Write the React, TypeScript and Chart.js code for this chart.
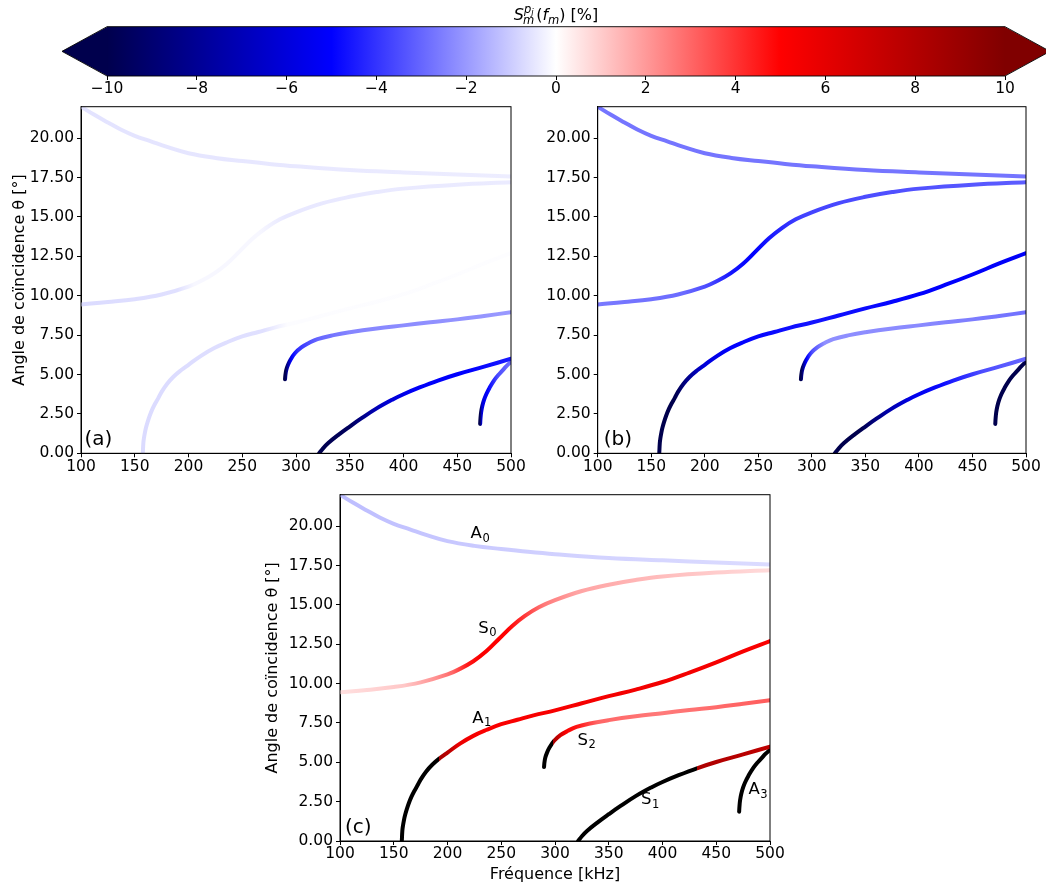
import React, { useEffect, useRef } from 'react';
import { Chart, registerables } from 'chart.js';

Chart.register(...registerables);

const FAMILY = "'DejaVu Sans', sans-serif";

// ---------- axes ----------
const freqTicks = [100, 150, 200, 250, 300, 350, 400, 450, 500];
const angleTicks = [0, 2.5, 5, 7.5, 10, 12.5, 15, 17.5, 20];
const colorbarTicks = [-10, -8, -6, -4, -2, 0, 2, 4, 6, 8, 10];

// ---------- modes: frequency [kHz] / coincidence angle [deg] ----------
const fA0 = [100, 112, 125, 137, 150, 165, 180, 200, 225, 250, 275, 300, 350, 400, 450, 500];
const tA0 = [22.0, 21.5, 21.0, 20.55, 20.15, 19.8, 19.45, 19.05, 18.75, 18.55, 18.37, 18.22, 17.98, 17.83, 17.7, 17.57];

const fS0 = [100, 125, 150, 175, 200, 212, 224, 236, 248, 260, 272, 285, 300, 325, 350, 375, 400, 450, 500];
const tS0 = [9.45, 9.6, 9.78, 10.08, 10.58, 10.95, 11.42, 12.05, 12.85, 13.65, 14.3, 14.85, 15.3, 15.88, 16.28, 16.58, 16.8, 17.05, 17.2];

const fA1 = [157.5, 158, 158.5, 159.5, 160.5, 162, 164, 166.5, 169, 172, 175, 180, 186, 193, 200, 212, 224, 236, 250, 265, 280, 300, 325, 350, 375, 400, 425, 450, 475, 500];
const tA1 = [0, 0.66, 0.94, 1.33, 1.63, 1.99, 2.4, 2.82, 3.16, 3.52, 3.9, 4.4, 4.86, 5.27, 5.62, 6.2, 6.68, 7.05, 7.42, 7.7, 7.98, 8.3, 8.75, 9.2, 9.62, 10.1, 10.7, 11.35, 12.05, 12.7];

const fS2 = [289.8, 290.2, 291, 292.5, 295, 299, 305, 312, 320, 335, 350, 375, 400, 425, 450, 475, 500];
const tS2 = [4.7, 5.0, 5.3, 5.6, 5.95, 6.35, 6.72, 7.0, 7.25, 7.5, 7.68, 7.92, 8.12, 8.32, 8.5, 8.72, 8.95];

const fS1 = [321.5, 325, 330, 340, 350, 360, 375, 390, 400, 415, 432, 450, 475, 500];
const tS1 = [0, 0.3, 0.65, 1.2, 1.7, 2.18, 2.85, 3.42, 3.75, 4.18, 4.62, 5.02, 5.5, 6.0];

const fA3 = [471.3, 471.6, 472.2, 473.3, 475, 477, 480, 484, 488, 492, 496, 500];
const tA3 = [1.86, 2.2, 2.6, 3.0, 3.4, 3.75, 4.15, 4.6, 4.95, 5.25, 5.55, 5.8];

// ---------- sensitivity S [%] along each mode: [frequency, value] (null = black) ----------
type Stop = [number, number | null];

const colA0a: Stop[] = [[100, -0.55], [300, -0.45], [500, -0.35]];
const colS0a: Stop[] = [[100, -0.7], [190, -0.6], [205, -0.15], [265, -0.15], [290, -0.45], [500, -0.4]];
const colA1a: Stop[] = [[157, -0.7], [270, -0.6], [292, -0.05], [500, -0.03]];
const colS2a: Stop[] = [[290, -11], [292, -8], [296, -5], [302, -4], [320, -3], [350, -2.4], [420, -2.2], [500, -2]];
const colS1a: Stop[] = [[321, -11], [350, -9.5], [380, -6.5], [410, -5.2], [460, -5], [500, -4.5]];
const colA3a: Stop[] = [[471, -10], [473, -6], [478, -5], [488, -3.5], [500, -2.8]];

const colA0b: Stop[] = [[100, -2.7], [500, -2.7]];
const colS0b: Stop[] = [[100, -2.6], [180, -2.9], [205, -3.6], [225, -4.6], [245, -5], [265, -4.4], [290, -3.7], [350, -3.5], [500, -3.2]];
const colA1b: Stop[] = [[157, -11], [172, -10.5], [185, -8], [200, -6], [225, -5], [300, -4.6], [400, -5], [500, -5.2]];
const colS2b: Stop[] = [[290, -11], [292, -8], [295, -5], [300, -3.5], [312, -2.2], [400, -2.3], [500, -2.8]];
const colS1b: Stop[] = [[321, -11], [345, -10], [370, -7.5], [395, -5.5], [420, -4.8], [460, -3.5], [500, -3]];
const colA3b: Stop[] = [[471, -11], [500, -10.5]];

const colA0c: Stop[] = [[100, -1.3], [300, -0.9], [500, -0.7]];
const colS0c: Stop[] = [[100, 0.6], [160, 1.1], [190, 2.2], [205, 3], [218, 4.5], [230, 5.2], [255, 5], [270, 4], [290, 2.6], [320, 1.8], [400, 1.3], [500, 0.7]];
const colA1c: Stop[] = [[157, null], [192, null], [192.5, 8.5], [203, 7.5], [210, 5.8], [230, 5.2], [300, 5.3], [400, 5.5], [500, 5.2]];
const colS2c: Stop[] = [[290, null], [298, null], [298.5, 8.5], [304, 7], [310, 5.2], [322, 4.5], [340, 3], [400, 2.6], [500, 3.2]];
const colS1c: Stop[] = [[321, null], [432, null], [432.5, 8.2], [500, 7.5]];
const colA3c: Stop[] = [[471, null], [500, null]];

// ---------- mode annotations in panel (c) ----------
const modeMain = ['A', 'S', 'A', 'S', 'S', 'A'];
const modeSub = ['0', '0', '1', '2', '1', '3'];
const modeF = [221.5, 228.7, 223, 321, 380, 480];
const modeT = [19.5, 13.5, 7.78, 6.4, 2.6, 3.23];

const curves = [
  { name: 'A0', f: fA0, t: tA0 },
  { name: 'S0', f: fS0, t: tS0 },
  { name: 'A1', f: fA1, t: tA1 },
  { name: 'S2', f: fS2, t: tS2 },
  { name: 'S1', f: fS1, t: tS1 },
  { name: 'A3', f: fA3, t: tA3 },
];

// matplotlib "seismic"
const seismicAnchors = [
  [0, 0, 0.3],
  [0, 0, 1],
  [1, 1, 1],
  [1, 0, 0],
  [0.5, 0, 0],
];
function seismic(v: number | null): string {
  if (v === null) return 'rgb(0,0,0)';
  let t = (v + 10) / 20;
  t = Math.max(0, Math.min(1, t));
  const p = t * 4;
  const i = Math.min(3, Math.floor(p));
  const r = p - i;
  const a = seismicAnchors[i];
  const b = seismicAnchors[i + 1];
  const c = [0, 1, 2].map((k) => Math.round(255 * (a[k] + (b[k] - a[k]) * r)));
  return `rgb(${c[0]},${c[1]},${c[2]})`;
}

function gradientFor(chart: any, stops: Stop[]) {
  const area = chart.chartArea;
  const xs = chart.scales && chart.scales.x;
  if (!area || !xs) return 'rgba(0,0,0,0)';
  const x0 = xs.getPixelForValue(100);
  const x1 = xs.getPixelForValue(500);
  const g = chart.ctx.createLinearGradient(x0, 0, x1, 0);
  stops.forEach(([f, v]) => g.addColorStop(Math.max(0, Math.min(1, (f - 100) / 400)), seismic(v)));
  return g;
}

interface PanelSpec {
  colours: Record<string, Stop[]>;
  yW: number;
  xH: number;
  padR: number;
  padT: number;
  yTitle: boolean;
  yTitlePad: number;
  xTitle: boolean;
  letter: string;
  letterDx: number;
  modeLabels: boolean;
}

const TICK_FONT = { family: FAMILY, size: 15.5 };
const TITLE_FONT = { family: FAMILY, size: 16 };

function makePanel(canvas: HTMLCanvasElement, spec: PanelSpec) {
  const datasets: any[] = [];
  curves.forEach((c) => {
    const data = c.f.map((f, i) => ({ x: f, y: c.t[i] }));
    const stops = spec.colours[c.name];
    datasets.push({
      data,
      showLine: true,
      pointRadius: 0,
      pointHoverRadius: 0,
      borderWidth: 4,
      borderCapStyle: 'round',
      borderJoinStyle: 'round',
      tension: 0.4,
      clip: 0,
      borderColor: (ctx: any) => gradientFor(ctx.chart, stops),
    });
    datasets.push({
      data,
      showLine: true,
      pointRadius: 0,
      pointHoverRadius: 0,
      borderWidth: 1.2,
      borderDash: [1.2, 2.0],
      borderColor: 'rgba(40,40,90,0.6)',
      tension: 0.4,
      clip: 0,
    });
  });

  const panelPlugin = {
    id: 'panelDecor',
    afterDatasetsDraw(chart: any) {
      const { ctx, chartArea: a } = chart;
      ctx.save();
      ctx.strokeStyle = '#000';
      ctx.lineWidth = 1;
      ctx.strokeRect(a.left, a.top, a.right - a.left, a.bottom - a.top);
      ctx.fillStyle = '#000';
      ctx.textBaseline = 'middle';
      ctx.textAlign = 'left';
      ctx.font = `20px ${FAMILY}`;
      ctx.fillText(spec.letter, a.left + spec.letterDx, a.bottom - 13.5);
      if (spec.modeLabels) {
        const xs = chart.scales.x;
        const ys = chart.scales.y;
        modeMain.forEach((m, i) => {
          const px = xs.getPixelForValue(modeF[i]);
          const py = ys.getPixelForValue(modeT[i]);
          ctx.font = `16.5px ${FAMILY}`;
          ctx.fillText(m, px, py);
          const w = ctx.measureText(m).width;
          ctx.font = `11.5px ${FAMILY}`;
          ctx.fillText(modeSub[i], px + w + 0.5, py + 4.5);
        });
      }
      ctx.restore();
    },
  };

  return new Chart(canvas, {
    type: 'scatter',
    data: { datasets },
    plugins: [panelPlugin],
    options: {
      responsive: false,
      animation: false,
      devicePixelRatio: 1,
      events: [],
      layout: { padding: { left: 0, right: spec.padR, top: spec.padT, bottom: 0 } },
      plugins: { legend: { display: false }, tooltip: { enabled: false }, title: { display: false } },
      scales: {
        x: {
          type: 'linear',
          min: 100,
          max: 500,
          afterBuildTicks: (s: any) => {
            s.ticks = freqTicks.map((v) => ({ value: v }));
          },
          afterFit: (s: any) => {
            s.height = spec.xH;
          },
          ticks: {
            font: TICK_FONT,
            color: '#000',
            padding: 0,
            maxRotation: 0,
            autoSkip: false,
            callback: (v: any) => String(v),
          },
          grid: { drawOnChartArea: false, drawTicks: true, tickLength: 4, tickColor: '#000', tickWidth: 1 },
          border: { display: true, color: '#000', width: 1 },
          title: {
            display: spec.xTitle,
            text: 'Fréquence [kHz]',
            font: TITLE_FONT,
            color: '#000',
            padding: { top: 0, bottom: 1.4 },
          },
        },
        y: {
          type: 'linear',
          min: 0,
          max: 22,
          afterBuildTicks: (s: any) => {
            s.ticks = angleTicks.map((v) => ({ value: v }));
          },
          afterFit: (s: any) => {
            s.width = spec.yW;
          },
          ticks: {
            font: TICK_FONT,
            color: '#000',
            padding: 3,
            autoSkip: false,
            callback: (v: any) => Number(v).toFixed(2),
          },
          grid: { drawOnChartArea: false, drawTicks: true, tickLength: 4, tickColor: '#000', tickWidth: 1 },
          border: { display: true, color: '#000', width: 1 },
          title: {
            display: spec.yTitle,
            text: 'Angle de coïncidence θ [°]',
            font: TITLE_FONT,
            color: '#000',
            padding: { top: spec.yTitlePad, bottom: 0 },
          },
        },
      },
    } as any,
  });
}

function makeColorbar(canvas: HTMLCanvasElement) {
  const cbPlugin = {
    id: 'colorbarDraw',
    beforeDatasetsDraw(chart: any) {
      const { ctx, chartArea: a } = chart;
      const ext = 45;
      const mid = (a.top + a.bottom) / 2;
      ctx.save();
      const g = ctx.createLinearGradient(a.left, 0, a.right, 0);
      [-10, -5, 0, 5, 10].forEach((v, i) => g.addColorStop(i / 4, seismic(v)));
      ctx.fillStyle = g;
      ctx.fillRect(a.left, a.top, a.right - a.left, a.bottom - a.top);
      ctx.fillStyle = seismic(-10);
      ctx.beginPath();
      ctx.moveTo(a.left + 0.5, a.top);
      ctx.lineTo(a.left - ext, mid);
      ctx.lineTo(a.left + 0.5, a.bottom);
      ctx.closePath();
      ctx.fill();
      ctx.fillStyle = seismic(10);
      ctx.beginPath();
      ctx.moveTo(a.right - 0.5, a.top);
      ctx.lineTo(a.right + ext, mid);
      ctx.lineTo(a.right - 0.5, a.bottom);
      ctx.closePath();
      ctx.fill();
      ctx.strokeStyle = '#000';
      ctx.lineWidth = 0.9;
      ctx.beginPath();
      ctx.moveTo(a.left, a.top);
      ctx.lineTo(a.right, a.top);
      ctx.lineTo(a.right + ext, mid);
      ctx.lineTo(a.right, a.bottom);
      ctx.lineTo(a.left, a.bottom);
      ctx.lineTo(a.left - ext, mid);
      ctx.closePath();
      ctx.stroke();

      // label: S_m^{p_j}(f_m) [%]
      const base = 20;
      const big = `16px ${FAMILY}`;
      const bigIt = `italic 16px ${FAMILY}`;
      const smIt = `italic 11.5px ${FAMILY}`;
      const tinyIt = `italic 8.5px ${FAMILY}`;
      const meas = (font: string, t: string) => {
        ctx.font = font;
        return ctx.measureText(t).width;
      };
      const wS = meas(bigIt, 'S');
      const wp = meas(smIt, 'p');
      const wj = meas(tinyIt, 'j');
      const wm = meas(smIt, 'm');
      const wScript = Math.max(wp + wj, wm);
      const wOpen = meas(big, '(');
      const wf = meas(bigIt, 'f');
      const wm2 = meas(smIt, 'm');
      const wClose = meas(big, ') [%]');
      const total = wS + wScript + 1 + wOpen + wf + wm2 + wClose;
      let x = (a.left + a.right) / 2 - total / 2;
      ctx.fillStyle = '#000';
      ctx.textBaseline = 'alphabetic';
      ctx.textAlign = 'left';
      ctx.font = bigIt;
      ctx.fillText('S', x, base);
      x += wS;
      ctx.font = smIt;
      ctx.fillText('p', x, base - 7.5);
      ctx.font = tinyIt;
      ctx.fillText('j', x + wp, base - 5);
      ctx.font = smIt;
      ctx.fillText('m', x - 1, base + 3.5);
      x += wScript + 1;
      ctx.font = big;
      ctx.fillText('(', x, base);
      x += wOpen;
      ctx.font = bigIt;
      ctx.fillText('f', x, base);
      x += wf;
      ctx.font = smIt;
      ctx.fillText('m', x, base + 3.5);
      x += wm2;
      ctx.font = big;
      ctx.fillText(') [%]', x, base);
      ctx.restore();
    },
  };

  return new Chart(canvas, {
    type: 'scatter',
    data: { datasets: [] },
    plugins: [cbPlugin],
    options: {
      responsive: false,
      animation: false,
      devicePixelRatio: 1,
      events: [],
      layout: { padding: { left: 107, right: 41, top: 26.7, bottom: 0 } },
      plugins: { legend: { display: false }, tooltip: { enabled: false } },
      scales: {
        x: {
          type: 'linear',
          min: -10,
          max: 10,
          afterBuildTicks: (s: any) => {
            s.ticks = colorbarTicks.map((v) => ({ value: v }));
          },
          afterFit: (s: any) => {
            s.height = 24;
          },
          ticks: {
            font: TICK_FONT,
            color: '#000',
            padding: 0,
            maxRotation: 0,
            autoSkip: false,
            callback: (v: any) => (Number(v) < 0 ? '\u2212' + Math.abs(Number(v)) : String(v)),
          },
          grid: { drawOnChartArea: false, drawTicks: true, tickLength: 4, tickColor: '#000', tickWidth: 1 },
          border: { display: false },
        },
        y: { display: false, min: 0, max: 1 },
      },
    } as any,
  });
}

const specA: PanelSpec = {
  colours: { A0: colA0a, S0: colS0a, A1: colA1a, S2: colS2a, S1: colS1a, A3: colA3a },
  yW: 81, xH: 26.7, padR: 29, padT: 16.7,
  yTitle: true, yTitlePad: 10.4, xTitle: false,
  letter: '(a)', letterDx: 3.5, modeLabels: false,
};
const specB: PanelSpec = {
  colours: { A0: colA0b, S0: colS0b, A1: colA1b, S2: colS2b, S1: colS1b, A3: colA3b },
  yW: 77.7, xH: 26.7, padR: 20, padT: 16.7,
  yTitle: false, yTitlePad: 0, xTitle: false,
  letter: '(b)', letterDx: 6, modeLabels: false,
};
const specC: PanelSpec = {
  colours: { A0: colA0c, S0: colS0c, A1: colA1c, S2: colS2c, S1: colS1c, A3: colA3c },
  yW: 80, xH: 45, padR: 30, padT: 14.7,
  yTitle: true, yTitlePad: 3.1, xTitle: true,
  letter: '(c)', letterDx: 5, modeLabels: true,
};

export default function App() {
  const cbRef = useRef<HTMLCanvasElement>(null);
  const aRef = useRef<HTMLCanvasElement>(null);
  const bRef = useRef<HTMLCanvasElement>(null);
  const cRef = useRef<HTMLCanvasElement>(null);

  useEffect(() => {
    const charts: Chart[] = [];
    if (cbRef.current) charts.push(makeColorbar(cbRef.current));
    if (aRef.current) charts.push(makePanel(aRef.current, specA));
    if (bRef.current) charts.push(makePanel(bRef.current, specB));
    if (cRef.current) charts.push(makePanel(cRef.current, specC));
    return () => charts.forEach((c) => c.destroy());
  }, []);

  const abs = (left: number, top: number): React.CSSProperties => ({ position: 'absolute', left, top, display: 'block' });

  return (
    <div style={{ position: 'absolute', left: 0, top: 0, width: 1046, height: 886, background: '#fff', overflow: 'hidden' }}>
      <canvas ref={cbRef} width={1046} height={100} style={abs(0, 0)} />
      <canvas ref={aRef} width={540} height={390} style={abs(0, 90)} />
      <canvas ref={bRef} width={526} height={390} style={abs(520, 90)} />
      <canvas ref={cRef} width={540} height={406} style={abs(260, 480)} />
    </div>
  );
}
